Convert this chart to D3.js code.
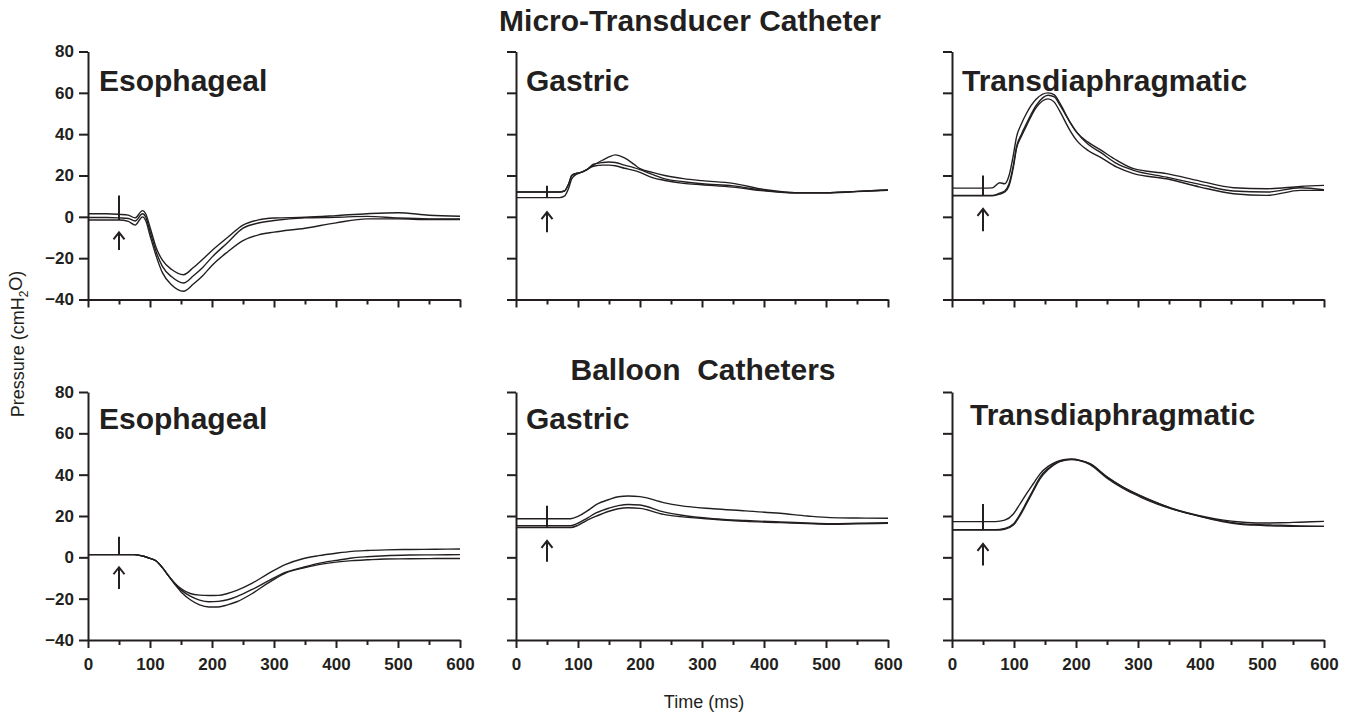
<!DOCTYPE html>
<meta charset="utf-8">
<style>
body { margin: 0; background: #fff; }
svg { font-family: "Liberation Sans", Arial, sans-serif; }
.axis path, .axis line { stroke: #231f20; stroke-width: 2px; }
.axis text { font-size: 17px; font-weight: bold; fill: #231f20; }
.trace { fill: none; stroke: #231f20; stroke-width: 1.4px; }
.mark { fill: none; stroke: #231f20; stroke-width: 2px; }
</style>
<svg width="1350" height="714"></svg>
<script src="https://cdn.jsdelivr.net/npm/d3@7"></script>
<script>

// Micro-transducer catheter traces (top row), cmH2O vs ms
var mtEsoT = [0, 30, 50, 65, 76, 88, 93, 100, 110, 120, 135, 154, 170, 185, 200, 225, 250, 275, 300, 350, 400, 450, 500, 550, 600];
var mtEsoA = [1.5, 1.5, 1.2, 0.8, -0.5, 3.0, 1.5, -5, -15, -21, -25.5, -28, -24.5, -20.5, -16.3, -10, -4, -1.5, -0.6, -0.2, 0.6, 1.5, 2, 0.8, 0.3];
var mtEsoB = [-0.3, -0.3, -0.5, -0.8, -2, 1.5, 0, -7, -17, -24, -29, -32, -28.5, -24.5, -19.5, -12.5, -5.5, -3, -1.8, -0.5, -0.2, 0.2, -0.6, -1, -1];
var mtEsoC = [-1.5, -1.5, -1.5, -2.2, -4, 0, -1.8, -9, -19, -27, -33, -36, -32.5, -28.5, -23.5, -17, -11.5, -8.7, -7.4, -5.5, -2.9, -1, -1, -1.3, -1.3];

var mtGasT = [0, 50, 70, 78, 85, 90, 97, 105, 115, 125, 140, 150, 160, 175, 190, 200, 220, 240, 270, 300, 350, 400, 450, 500, 550, 600];
var mtGasA = [12, 12, 12, 12.5, 16, 20, 21, 21.5, 23, 25, 27.5, 29, 30, 28.5, 25.5, 23.3, 21.5, 20, 18.5, 17.5, 16.2, 13.2, 11.7, 11.7, 12.3, 13];
var mtGasB = [12, 12, 12, 12.5, 16, 20, 21, 21.5, 23, 25.5, 26.3, 26.5, 26.3, 25, 23.8, 22.8, 20.5, 18.4, 17, 16, 15, 12.8, 11.7, 11.7, 12.3, 13];
var mtGasC = [9.3, 9.3, 9.3, 10, 14, 18.5, 20.5, 21.5, 23, 24.5, 25, 25, 24.7, 23.5, 22.5, 21.5, 19, 17.6, 16.2, 15.5, 14.4, 12.6, 11.5, 11.5, 12.2, 12.8];

var mtDiT = [0, 50, 65, 77, 85, 92, 99, 104, 112, 120, 136, 155, 165, 174, 190, 201, 220, 239, 266, 293, 346, 400, 454, 508, 562, 600];
var mtDiA = [13.9, 13.9, 14, 16.5, 16, 20, 30, 38.6, 45, 50, 57, 60, 59, 55, 46, 41, 36, 32.5, 27.3, 23.3, 20.9, 17.3, 14.1, 13.6, 14.7, 15.2];
var mtDiB = [10.4, 10.4, 10.4, 11.5, 12.5, 16, 25, 33.8, 40, 45, 54, 58.8, 58, 54, 46, 41, 35, 31.3, 25.7, 22.5, 19.2, 15.7, 12.5, 12, 14.1, 13.1];
var mtDiC = [10.2, 10.2, 10.2, 11, 12, 15, 24, 33, 39, 44, 53, 57.1, 55.5, 51, 42, 37, 32, 28.9, 24, 20.9, 18.4, 14.4, 11.2, 10.4, 12.8, 12.8];

// Balloon catheter traces (bottom row)
var blEsoT = [0, 50, 75, 90, 100, 110, 120, 130, 140, 151, 165, 180, 195, 210, 225, 240, 265, 290, 318, 345, 372, 400, 426, 450, 480, 520, 560, 600];
var blEsoA = [1.3, 1.3, 1.3, 0.5, -0.5, -1.8, -5, -9, -12.5, -15.3, -17.5, -18.3, -18.5, -18.4, -17.5, -16, -12.5, -8, -3.5, -0.8, 0.8, 2, 2.9, 3.3, 3.6, 3.8, 3.9, 4];
var blEsoB = [1.3, 1.3, 1.3, 0.5, -0.5, -1.8, -5, -9, -12.7, -16, -18.8, -20.7, -21.5, -21.3, -20.5, -19, -15.5, -11.5, -7.3, -5, -2.9, -1.5, -0.3, 0.3, 0.8, 1.1, 1.2, 1.3];
var blEsoC = [1.3, 1.3, 1.3, 0.5, -0.5, -1.8, -5, -9, -13, -17, -20.5, -23, -24, -24, -23, -21.5, -17.5, -12.5, -7.7, -5.3, -3.5, -2.3, -1.6, -1.2, -0.8, -0.7, -0.6, -0.6];

var blGasT = [0, 50, 88, 100, 115, 130, 150, 165, 181, 200, 238, 265, 318, 370, 426, 470, 507, 550, 600];
var blGasA = [18.7, 18.7, 18.7, 19.8, 22.5, 25.6, 28, 29.3, 29.7, 29.4, 26.5, 25, 23.5, 22.5, 21.3, 20, 19.2, 19, 18.9];
var blGasB = [15.3, 15.3, 15.3, 16.5, 19, 21.6, 23.8, 25, 25.6, 25.3, 22, 20.5, 18.7, 17.8, 17.1, 16.6, 16.3, 16.5, 16.8];
var blGasC = [14.4, 14.4, 14.4, 15.5, 18, 20, 22.3, 23.5, 24, 23.7, 20.8, 19.7, 18.4, 17.4, 16.8, 16.3, 16, 16.2, 16.5];

var blDiT = [0, 50, 70, 85, 99, 110, 120, 131, 142, 155, 169, 180, 193, 207, 222, 250, 276, 303, 330, 357, 384, 411, 438, 465, 497, 530, 560, 600];
var blDiA = [17.3, 17.3, 17.3, 18, 21, 26, 30.7, 35.6, 40.4, 44, 46.3, 47.3, 47.6, 46.9, 45.2, 38.8, 33.9, 29.9, 26.4, 23.4, 21.2, 19.4, 18, 17.1, 16.6, 16.7, 17, 17.4];
var blDiB = [13.4, 13.4, 13.4, 14, 16.1, 21, 26.6, 32.7, 38.8, 43, 46, 47, 47.4, 46.7, 45, 38.3, 33.3, 29.3, 25.9, 23.2, 21, 19.1, 17.5, 16.3, 15.8, 15.5, 15.2, 15];
var blDiC = [13.2, 13.2, 13.2, 13.6, 15.6, 20.3, 25.8, 32, 38, 42.5, 45.6, 46.8, 47.3, 46.8, 45.4, 39, 34, 30, 26.5, 23.4, 21, 19, 17.2, 16, 15.5, 15.1, 15, 15];

var panelNames = ["Esophageal", "Gastric", "Transdiaphragmatic", "Esophageal", "Gastric", "Transdiaphragmatic"];
var rowTitles = ["Micro-Transducer Catheter", "Balloon  Catheters"];
// stimulus artefact at 50 ms: [top, bottom] and arrow [tip, tail], cmH2O
var stimTime = 50;
var spikes = [[10.3, -1.5], [15, 9.3], [20, 10.2], [10, 1.3], [25, 14.4], [25.8, 13.2]];
var arrows = [[-7.5, -16], [2.3, -7.5], [3.9, -7], [-4.8, -15.3], [8, -2.1], [6.5, -4]];
var yTicks = [-40, -20, 0, 20, 40, 60, 80];
var xMajor = [0, 100, 200, 300, 400, 500, 600];
var xMinor = [50, 150, 250, 350, 450, 550];

var panels = [
  {t: mtEsoT, traces: [mtEsoA, mtEsoB, mtEsoC]},
  {t: mtGasT, traces: [mtGasA, mtGasB, mtGasC]},
  {t: mtDiT, traces: [mtDiA, mtDiB, mtDiC]},
  {t: blEsoT, traces: [blEsoA, blEsoB, blEsoC]},
  {t: blGasT, traces: [blGasA, blGasB, blGasC]},
  {t: blDiT, traces: [blDiA, blDiB, blDiC]}
];

var svg = d3.select("svg"),
    colX = [88, 516, 952],
    rowY = [51.5, 392],
    pw = 372,
    ph = 248,
    ink = "#231f20";

var labelDx = [11, 10, 10, 11, 10, 18],
    labelBase = [39, 39, 39, 37, 37, 33];

panels.forEach(function(p, i) {
  var col = i % 3, row = Math.floor(i / 3);
  var g = svg.append("g").attr("transform", "translate(" + colX[col] + "," + rowY[row] + ")");

  var x = d3.scaleLinear().domain([0, 600]).range([0, pw]),
      y = d3.scaleLinear().domain([-40, 80]).range([ph, 0]);

  g.append("g")
      .attr("class", "axis")
      .call(d3.axisLeft(y).tickValues(yTicks).tickSize(9).tickPadding(5).tickSizeOuter(0)
        .tickFormat(col === 0 ? d3.format("d") : ""));

  g.append("g")
      .attr("class", "axis")
      .attr("transform", "translate(0," + ph + ")")
      .call(d3.axisBottom(x).tickValues(xMajor).tickSize(8).tickPadding(10).tickSizeOuter(0)
        .tickFormat(row === 1 ? d3.format("d") : ""));

  g.append("g")
      .attr("class", "axis")
      .attr("transform", "translate(0," + ph + ")")
      .call(d3.axisBottom(x).tickValues(xMinor).tickSize(5).tickFormat("").tickSizeOuter(0))
      .select(".domain").remove();

  var line = d3.line()
      .curve(d3.curveMonotoneX)
      .x(function(d, k) { return x(p.t[k]); })
      .y(function(d) { return y(d); });

  g.selectAll(".trace")
    .data(p.traces)
    .enter().append("path")
      .attr("class", "trace")
      .attr("d", line);

  // stimulus artefact
  g.append("line")
      .attr("class", "mark")
      .attr("x1", x(stimTime)).attr("x2", x(stimTime))
      .attr("y1", y(spikes[i][0])).attr("y2", y(spikes[i][1]));

  // arrow
  var ax = x(stimTime), tip = y(arrows[i][0]), tail = y(arrows[i][1]);
  g.append("path")
      .attr("class", "mark")
      .attr("d", "M" + ax + "," + tail + "V" + tip + "M" + (ax - 5.5) + "," + (tip + 7) + "L" + ax + "," + tip + "L" + (ax + 5.5) + "," + (tip + 7));

  g.append("text")
      .attr("x", labelDx[i])
      .attr("y", labelBase[i])
      .attr("fill", ink)
      .style("font-size", "30px")
      .style("font-weight", "bold")
      .text(panelNames[i]);
});

svg.append("text")
    .attr("x", 690).attr("y", 31)
    .attr("text-anchor", "middle")
    .attr("fill", ink)
    .style("font-size", "30px").style("font-weight", "bold")
    .text(rowTitles[0]);

svg.append("text")
    .attr("x", 703).attr("y", 380)
    .attr("text-anchor", "middle")
    .attr("fill", ink)
    .style("font-size", "30px").style("font-weight", "bold")
    .style("white-space", "pre")
    .text(rowTitles[1]);

var yl = svg.append("text")
    .attr("transform", "translate(24,344) rotate(-90)")
    .attr("text-anchor", "middle")
    .attr("fill", ink)
    .style("font-size", "18px");
yl.append("tspan").text("Pressure (cmH");
yl.append("tspan").attr("dy", "0.3em").style("font-size", "12px").text("2");
yl.append("tspan").attr("dy", "-0.3em").text("O)");

svg.append("text")
    .attr("x", 704).attr("y", 708)
    .attr("text-anchor", "middle")
    .attr("fill", ink)
    .style("font-size", "18px")
    .text("Time (ms)");

</script>
